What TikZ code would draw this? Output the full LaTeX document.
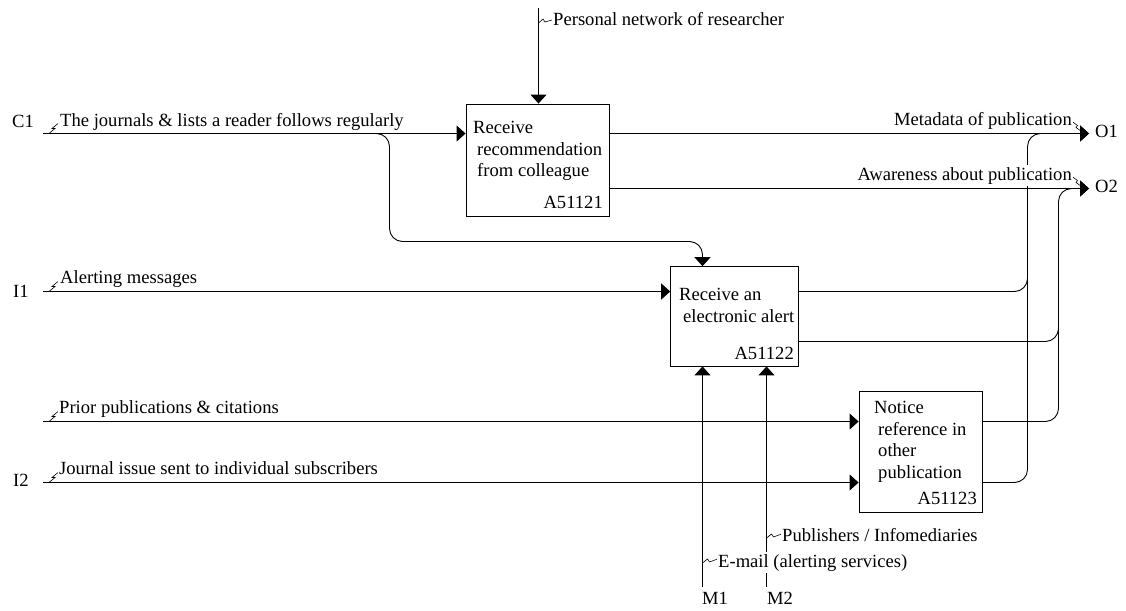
\documentclass[tikz,border=0pt]{standalone}
\usepackage{fontspec}
\setmainfont{Liberation Serif}
\usetikzlibrary{arrows.meta,positioning}

\begin{document}
\begin{tikzpicture}[x=1pt, y=-1pt, font=\fontsize{18.6}{21.7}\selectfont,
    func/.style={draw, line width=0.9pt, inner sep=0pt},
    txt/.style={inner sep=0pt, align=left, anchor=north west},
    fid/.style={inner sep=0pt, anchor=base east},
    flow/.style={line width=0.9pt, rounded corners=13pt},
    arr/.style={flow, -{Triangle[length=9pt, width=16pt]}},
    lbl/.style={fill=white, inner xsep=1pt, inner ysep=2pt, anchor=base west},
    rlbl/.style={lbl, anchor=base east},
    code/.style={inner sep=0pt, anchor=base west},
    squig/.style={line width=0.6pt}]
  \useasboundingbox (0,0) rectangle (1126,610);

  \node[func, minimum width=143pt, minimum height=112pt] (A1) at (537.5,160) {};
  \node[func, minimum width=127.3pt, minimum height=99.3pt] (A2) at (734.3,316.3) {};
  \node[func, minimum width=123pt, minimum height=121pt] (A3) at (920.5,451.5) {};
  \node[txt] (A1t) at (473,121) {Receive\\\hspace*{4pt}recommendation\\\hspace*{4pt}from colleague};
  \node[fid] (A1i) at (603,208) {A51121};
  \node[txt] (A2t) at (679,288) {Receive an\\\hspace*{4pt}electronic alert};
  \node[fid] (A2i) at (794,359) {A51122};
  \node[txt] (A3t) at (874,401) {Notice\\\hspace*{4pt}reference in\\\hspace*{4pt}other\\\hspace*{4pt}publication};
  \node[fid] (A3i) at (977,504) {A51123};

  \coordinate (c1) at (43,133.5);
  \coordinate (i1) at (43,291.5);
  \coordinate (p1) at (43,421.5);
  \coordinate (i2) at (43,482.5);
  \coordinate (ctl) at (538.5,8);
  \coordinate (o1) at (1089,133.5);
  \coordinate (o2) at (1089,188.5);
  \coordinate (m1) at (702.5,587);
  \coordinate (m2) at (766.5,587);
  \coordinate (br) at (389.5,133.5);
  \coordinate (ab) at (702.5,241.5);
  \coordinate (jn1) at (1027.5,133.5);
  \coordinate (jn2) at (1058.5,188.5);
  \coordinate (a2o) at (798,341.5);

  \draw[arr] (c1) -- (c1 -| A1.west);
  \draw[arr] (ctl) -- (ctl |- A1.north);
  \draw[arr] (c1 -| A1.east) -- (o1);
  \draw[arr] (A1.east |- o2) -- (o2);
  \draw[arr] ([xshift=-14pt]br) -- (br) |- (ab) -- (ab |- A2.north);
  \draw[arr] (i1) -- (i1 -| A2.west);
  \draw[arr] (p1) -- (p1 -| A3.west);
  \draw[arr] (i2) -- (i2 -| A3.west);
  \draw[arr] (m1) -- (m1 |- A2.south);
  \draw[arr] (m2) -- (m2 |- A2.south);
  \draw[arr] (i1 -| A2.east) -| (jn1) -- (o1);
  \draw[arr] (a2o) -| (jn2) -- (o2);
  \draw[flow] (p1 -| A3.east) -| ([yshift=-20pt]jn2);
  \draw[flow] (i2 -| A3.east) -| ([yshift=-20pt]jn1);

  \foreach \p in {c1,i1,p1,i2}
    \draw[squig] (\p) ++(6,0) -- ++(6,-5) -- ++(-3,0) -- ++(6,-5);
  \draw[squig] (ctl) ++(0,15) -- ++(4.5,-4) -- ++(2,3) -- ++(7,-2);
  \draw[squig] (m1) ++(0,-24) -- ++(5,-4) -- ++(2,3) -- ++(8,-3);
  \draw[squig] (m2) ++(0,-49) -- ++(5,-4) -- ++(2,3) -- ++(8,-3);
  \draw[squig] (o1) ++(-17,-12) -- ++(5.5,4) -- ++(-1.5,2) -- ++(7,5);
  \draw[squig] (o2) ++(-17,-12) -- ++(5.5,4) -- ++(-1.5,2) -- ++(7,5);

  \node[lbl] (c1l) at (59,126) {The journals \& lists a reader follows regularly};
  \node[lbl] (i1l) at (59,283.3) {Alerting messages};
  \node[lbl] (p1l) at (58,413) {Prior publications \& citations};
  \node[lbl] (i2l) at (58,474.3) {Journal issue sent to individual subscribers};
  \node[lbl] (ctll) at (552,26) {Personal network of researcher};
  \node[rlbl] (o1l) at (1073,125) {Metadata of publication};
  \node[rlbl] (o2l) at (1073,180) {Awareness about publication};
  \node[lbl] (m2l) at (781,541.7) {Publishers / Infomediaries};
  \node[lbl] (m1l) at (717,567) {E-mail (alerting services)};

  \node[code] (c1c) at (12,127) {C1};
  \node[code] (i1c) at (13,297) {I1};
  \node[code] (i2c) at (13,486) {I2};
  \node[code] (o1c) at (1095,137) {O1};
  \node[code] (o2c) at (1095,192) {O2};
  \node[code] (m1c) at (702,604) {M1};
  \node[code] (m2c) at (767,604) {M2};
\end{tikzpicture}
\end{document}
